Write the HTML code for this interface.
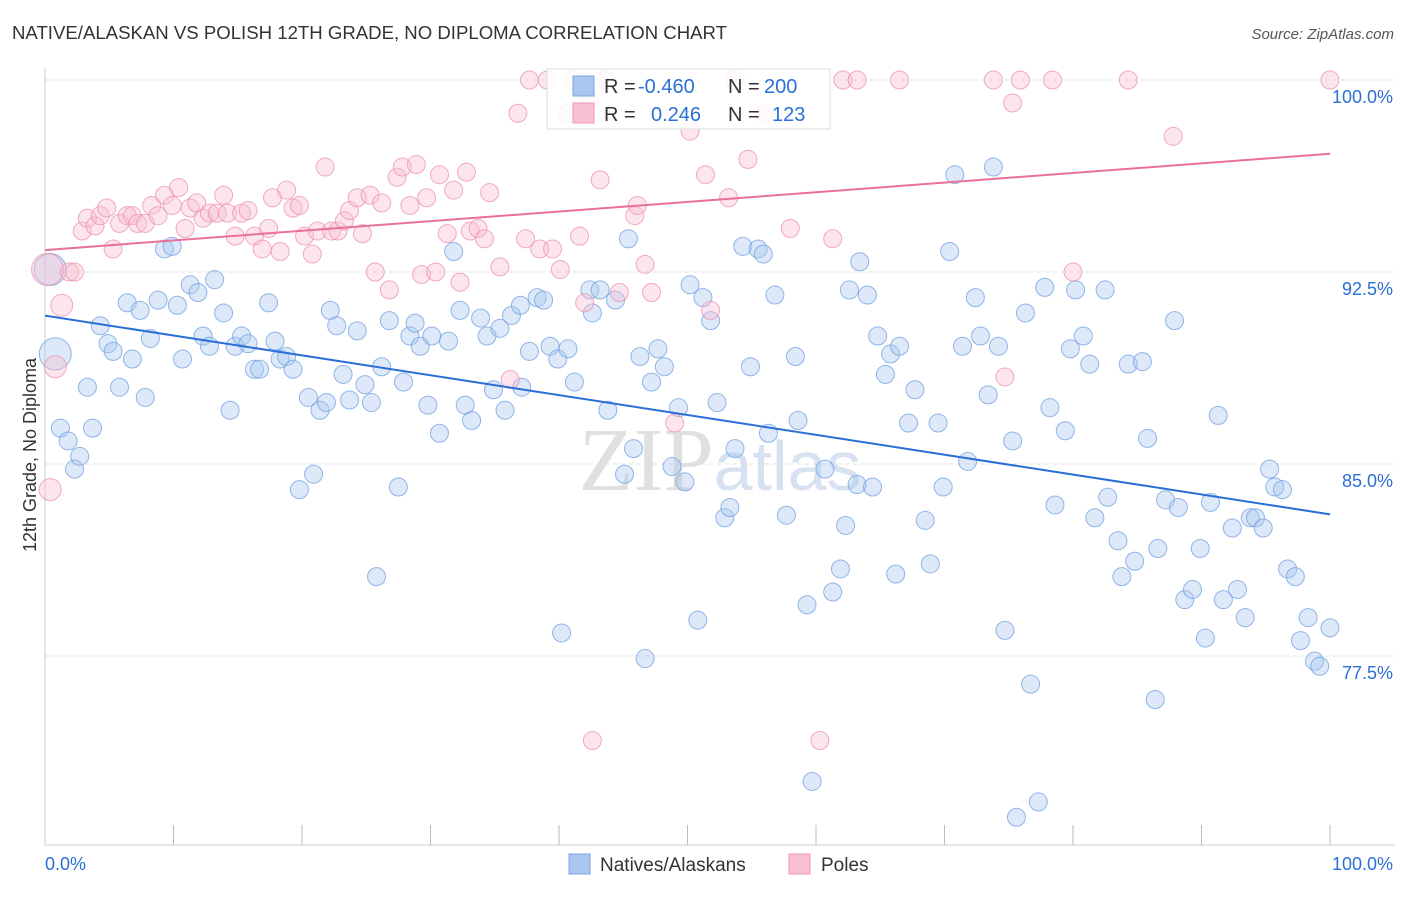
<!DOCTYPE html>
<html><head><meta charset="utf-8"><style>
body{margin:0;background:#fff;font-family:"Liberation Sans",sans-serif}
svg text{font-family:"Liberation Sans",sans-serif}
</style></head><body>
<svg id="chart" width="1406" height="892" xmlns="http://www.w3.org/2000/svg">
<text x="12" y="39" font-size="18.6" fill="#333">NATIVE/ALASKAN VS POLISH 12TH GRADE, NO DIPLOMA CORRELATION CHART</text>
<text x="1394" y="39" font-size="15" fill="#555" font-style="italic" text-anchor="end">Source: ZipAtlas.com</text>
<text x="720" y="490" font-size="90" fill="#ddd" text-anchor="middle" font-family="Liberation Serif"><tspan fill="#e0e0e0" font-family="Liberation Serif">ZIP</tspan><tspan fill="#d6e2f2" font-family="Liberation Sans" font-size="70">atlas</tspan></text>
<g id="grid"></g>
<g id="axes"></g>
<g id="blue"></g>
<g id="pink"></g>
<g id="lines"></g>
<text x="36" y="455" font-size="18" fill="#333" text-anchor="middle" transform="rotate(-90 36 455)">12th Grade, No Diploma</text>
<g>
<rect x="547" y="69" width="283" height="60" fill="#fff" fill-opacity="0.85" stroke="#ddd"/>
<rect x="573" y="76" width="21" height="20" fill="#a9c7f0" stroke="#7aa6e2"/>
<rect x="573" y="103" width="21" height="20" fill="#f7bfd1" stroke="#ee9ab8"/>
<text font-size="20" fill="#333"><tspan x="604" y="93">R = </tspan><tspan x="638" fill="#2a6fd6">-0.460</tspan><tspan x="728">N = </tspan><tspan x="764" fill="#2a6fd6">200</tspan></text>
<text font-size="20" fill="#333"><tspan x="604" y="121">R = </tspan><tspan x="651" fill="#2a6fd6">0.246</tspan><tspan x="728">N = </tspan><tspan x="772" fill="#2a6fd6">123</tspan></text>
</g>
<g>
<rect x="569" y="854" width="21" height="20" fill="#a9c7f0" stroke="#7aa6e2"/>
<text x="600" y="871" font-size="19" fill="#333">Natives/Alaskans</text>
<rect x="789" y="854" width="21" height="20" fill="#f7bfd1" stroke="#ee9ab8"/>
<text x="821" y="871" font-size="19" fill="#333">Poles</text>
</g>
</svg>
<script>
const yTicks=[100,92.5,85,77.5];
const yTickLabels=["100.0%","92.5%","85.0%","77.5%"];
const xTickCount=10;
const xEndLabels=["0.0%","100.0%"];
const blueX=[0.4,0.8,1.2,1.8,2.3,2.7,3.7,3.3,4.3,4.9,5.3,5.8,6.4,6.8,7.4,7.8,8.2,8.8,9.3,9.9,10.3,10.7,11.3,11.9,12.3,12.8,13.2,13.9,14.4,14.8,15.3,15.8,16.3,16.7,17.4,17.9,18.3,18.8,19.3,19.8,20.5,20.9,21.4,21.9,22.2,22.7,23.2,23.7,24.3,24.9,25.4,25.8,26.2,26.8,27.5,27.9,28.4,28.8,29.2,29.8,30.1,30.7,31.4,31.8,32.3,32.7,33.2,33.9,34.4,34.9,35.4,35.8,36.3,37.0,37.1,37.7,38.3,38.8,39.3,39.9,40.2,40.7,41.2,42.4,42.6,43.2,43.8,44.4,45.1,45.4,45.8,46.3,46.7,47.2,47.7,48.2,48.8,49.3,49.8,50.2,50.8,51.2,51.8,52.3,52.9,53.3,53.7,54.3,54.9,55.5,55.9,56.3,56.8,57.7,58.4,58.6,59.3,59.7,60.7,61.3,61.9,62.3,62.6,63.2,63.4,64.0,64.4,64.8,65.4,65.8,66.2,66.5,67.2,67.7,68.5,68.9,69.5,69.9,70.4,70.8,71.4,71.8,72.4,72.8,73.4,73.8,74.2,74.7,75.3,75.6,76.3,76.7,77.3,77.8,78.2,78.6,79.4,79.8,80.2,80.8,81.3,81.7,82.5,82.7,83.5,83.8,84.3,84.8,85.4,85.8,86.4,86.6,87.2,87.9,88.2,88.7,89.3,89.9,90.3,90.7,91.3,91.7,92.4,92.8,93.4,93.8,94.2,94.8,95.3,95.7,96.3,96.7,97.3,97.7,98.3,98.8,99.2,100.0];
const blueY=[92.6,89.3,86.4,85.9,84.8,85.3,86.4,88.0,90.4,89.7,89.4,88.0,91.3,89.1,91.0,87.6,89.9,91.4,93.4,93.5,91.2,89.1,92.0,91.7,90.0,89.6,92.2,90.9,87.1,89.6,90.0,89.7,88.7,88.7,91.3,89.8,89.1,89.2,88.7,84.0,87.6,84.6,87.1,87.4,91.0,90.4,88.5,87.5,90.2,88.1,87.4,80.6,88.8,90.6,84.1,88.2,90.0,90.5,89.6,87.3,90.0,86.2,89.8,93.3,91.0,87.3,86.7,90.7,90.0,87.9,90.3,87.1,90.8,91.2,88.0,89.4,91.5,91.4,89.6,89.1,78.4,89.5,88.2,91.8,90.9,91.8,87.1,91.4,84.6,93.8,85.6,89.2,77.4,88.2,89.5,88.8,84.9,87.2,84.3,92.0,78.9,91.5,90.6,87.4,82.9,83.3,85.6,93.5,88.8,93.4,93.2,86.2,91.6,83.0,89.2,86.7,79.5,72.6,84.8,80.0,80.9,82.6,91.8,84.2,92.9,91.6,84.1,90.0,88.5,89.3,80.7,89.6,86.6,87.9,82.8,81.1,86.6,84.1,93.3,96.3,89.6,85.1,91.5,90.0,87.7,96.6,89.6,78.5,85.9,71.2,90.9,76.4,71.8,91.9,87.2,83.4,86.3,89.5,91.8,90.0,88.9,82.9,91.8,83.7,82.0,80.6,88.9,81.2,89.0,86.0,75.8,81.7,83.6,90.6,83.3,79.7,80.1,81.7,78.2,83.5,86.9,79.7,82.5,80.1,79.0,82.9,82.9,82.5,84.8,84.1,84.0,80.9,80.6,78.1,79.0,77.3,77.1,78.6];
const pinkX=[0.2,0.4,0.8,1.3,1.9,2.3,2.9,3.3,3.9,4.3,4.8,5.3,5.8,6.4,6.8,7.2,7.8,8.3,8.8,9.3,9.9,10.4,10.9,11.3,11.8,12.3,12.8,13.4,13.9,14.2,14.8,15.3,15.8,16.3,16.9,17.4,17.7,18.3,18.8,19.3,19.8,20.2,20.8,21.2,21.8,22.3,22.8,23.3,23.7,24.3,24.7,25.3,25.7,26.2,26.8,27.4,27.8,28.4,28.9,29.3,29.7,30.4,30.7,31.3,31.8,32.3,32.8,33.1,33.7,34.2,34.6,35.4,36.2,36.8,37.4,37.7,38.5,39.1,39.5,40.1,40.7,41.2,41.6,42.0,42.4,42.6,43.2,43.6,44.7,45.9,46.1,46.7,47.2,49.0,50.2,51.4,51.8,53.2,53.7,54.7,56.0,58.0,60.3,61.3,62.1,63.2,66.5,73.8,74.7,75.3,75.9,78.4,80.0,84.3,87.8,100];
const pinkY=[92.6,84.0,88.8,91.2,92.5,92.5,94.1,94.6,94.3,94.7,95.0,93.4,94.4,94.7,94.7,94.4,94.4,95.1,94.7,95.5,95.1,95.8,94.2,95.0,95.2,94.6,94.8,94.8,95.5,94.8,93.9,94.8,94.9,93.9,93.4,94.2,95.4,93.3,95.7,95.0,95.1,93.9,93.2,94.1,96.6,94.1,94.1,94.5,94.9,95.4,94.0,95.5,92.5,95.2,91.8,96.2,96.6,95.1,96.7,92.4,95.4,92.5,96.3,94.0,95.7,92.1,96.4,94.1,94.2,93.8,95.6,92.7,88.3,98.7,93.8,100,93.4,100,93.4,92.6,98.7,100,93.9,91.3,99.2,74.2,96.1,100,91.7,94.7,95.1,92.8,91.7,86.6,98.0,96.3,91.0,95.4,100,96.9,98.7,94.2,74.2,93.8,100,100,100,100,88.4,99.1,100,100,92.5,100,97.8,100];

const NS='http://www.w3.org/2000/svg';
const X0=45,X1=1330,YTOP=80,PX_PER=192/7.5,YBOT=845;
const sx=v=>X0+(X1-X0)*v/100;
const sy=v=>YTOP+(100-v)*PX_PER;
function mk(tag,attrs,parent){const e=document.createElementNS(NS,tag);for(const k in attrs)e.setAttribute(k,attrs[k]);parent.appendChild(e);return e;}
const grid=document.getElementById('grid'),axes=document.getElementById('axes');
yTicks.forEach((t,i)=>{
  const l=mk('line',{x1:X0,x2:1395,y1:sy(t),y2:sy(t),stroke:'#ddd','stroke-dasharray':'4,4'},grid);
  
  
  const tx=mk('text',{x:1393,y:sy(t)+23,'font-size':18,fill:'#2a6fd6','text-anchor':'end'},axes);
  tx.textContent=yTickLabels[i];
  
  
});
let a=mk('line',{x1:X0,x2:X0,y1:68,y2:YBOT,stroke:'#ccc'},axes);


a=mk('line',{x1:X0,x2:1395,y1:YBOT,y2:YBOT,stroke:'#ccc'},axes);


for(let i=1;i<=xTickCount;i++){
  const t=mk('line',{x1:sx(i*10),x2:sx(i*10),y1:825,y2:YBOT,stroke:'#bbb'},axes);
  
  
}
[[0,'start'],[100,'end']].forEach((p,i)=>{
  const t=mk('text',{x:i?1393:45,y:870,'font-size':18,fill:'#2a6fd6','text-anchor':p[1]},axes);
  t.textContent=xEndLabels[i];
  
  
});
function pts(xs,ys,g,fill,stroke,name){
  xs.forEach((x,i)=>{
    const big=(i===0||(name==='blue-point'&&i===1))?16:(name==='pink-point'&&i<=3?11:9);
    const c=mk('circle',{cx:sx(x),cy:sy(ys[i]),r:big,fill:fill,'fill-opacity':0.4,stroke:stroke,'stroke-opacity':0.75,'stroke-width':1},g);
    
    
  });
}
pts(blueX,blueY,document.getElementById('blue'),'#a9c7f0','#6f9fe0','blue-point');
pts(pinkX,pinkY,document.getElementById('pink'),'#f7bfd1','#ec8fb0','pink-point');
function fit(xs,ys){const n=xs.length;let mx=0,my=0;xs.forEach((x,i)=>{mx+=x;my+=ys[i]});mx/=n;my/=n;let sxy=0,sxx=0;xs.forEach((x,i)=>{sxy+=(x-mx)*(ys[i]-my);sxx+=(x-mx)*(x-mx)});const b=sxy/sxx;return [my-b*mx,b];}
const lines=document.getElementById('lines');
[[blueX,blueY,'#2a6fd6','blue-trend-line'],[pinkX,pinkY,'#e8709a','pink-trend-line']].forEach(s=>{
  const [a0,b]=fit(s[0],s[1]);
  const l=mk('line',{x1:sx(0),y1:sy(a0),x2:sx(100),y2:sy(a0+100*b),stroke:s[2],'stroke-width':2},lines);
  
  
});
</script>
</body></html>
